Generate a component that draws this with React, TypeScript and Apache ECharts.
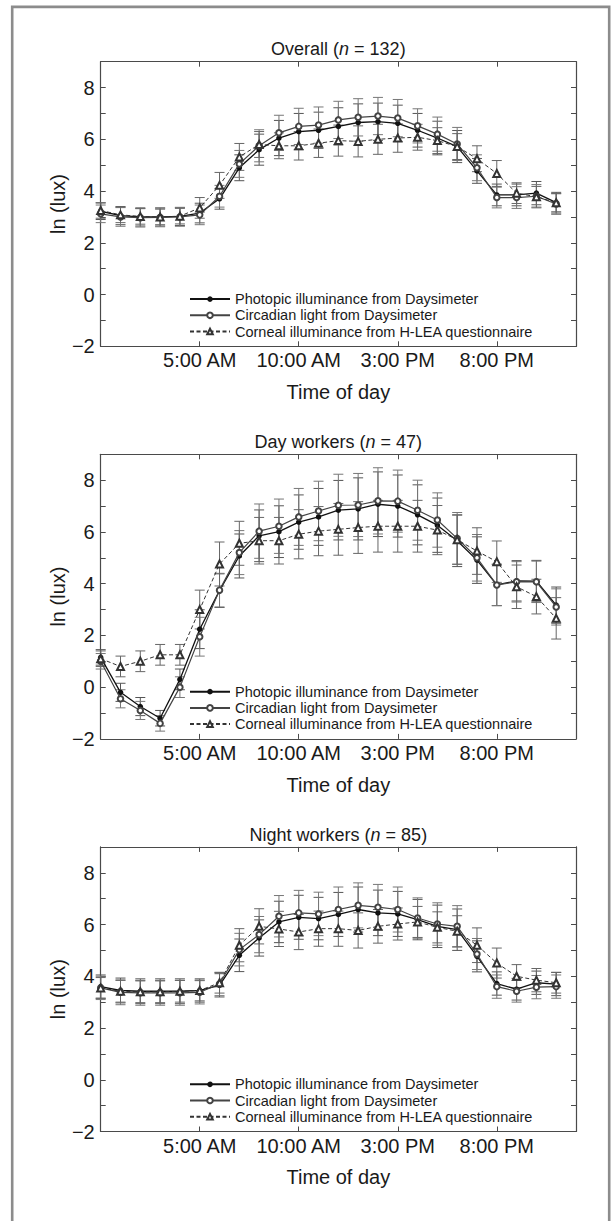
import React, { useEffect, useRef } from 'react';
import * as echarts from 'echarts';

// ---------------- data ----------------
const hours = [0, 1, 2, 3, 4, 5, 6, 7, 8, 9, 10, 11, 12, 13, 14, 15, 16, 17, 18, 19, 20, 21, 22, 23];

const xTickValues = [5, 10, 15, 20];
const xTickLabels = ['5:00 AM', '10:00 AM', '3:00 PM', '8:00 PM'];
const yTickValues = [-2, 0, 2, 4, 6, 8];
const yTickLabels = ['\u22122', '0', '2', '4', '6', '8'];

const seriesNames = [
  'Photopic illuminance from Daysimeter',
  'Circadian light from Daysimeter',
  'Corneal illuminance from H-LEA questionnaire',
];

const panelTitles = ['Overall', 'Day workers', 'Night workers'];
const panelN = [132, 47, 85];

// Overall (n = 132)
const overallPhotopic = [3.22, 3.05, 3.0, 3.0, 3.02, 3.15, 3.7, 4.9, 5.6, 6.05, 6.3, 6.35, 6.5, 6.65, 6.68, 6.62, 6.35, 6.05, 5.72, 4.78, 3.85, 3.85, 3.92, 3.55];
const overallCircadian = [3.12, 3.0, 2.97, 2.98, 3.0, 3.08, 3.8, 5.05, 5.75, 6.25, 6.5, 6.55, 6.75, 6.85, 6.9, 6.82, 6.52, 6.2, 5.82, 4.9, 3.75, 3.75, 3.8, 3.5];
const overallCorneal = [3.25, 3.08, 3.02, 3.0, 3.03, 3.35, 4.22, 5.32, 5.8, 5.75, 5.75, 5.85, 5.95, 5.92, 6.0, 6.05, 6.08, 5.95, 5.72, 5.25, 4.68, 3.92, 3.78, 3.55];
const overallPhotopicErr = [0.32, 0.35, 0.35, 0.35, 0.35, 0.38, 0.4, 0.5, 0.6, 0.68, 0.7, 0.7, 0.72, 0.72, 0.72, 0.7, 0.65, 0.65, 0.62, 0.48, 0.42, 0.42, 0.45, 0.4];
const overallCircadianErr = [0.34, 0.36, 0.36, 0.36, 0.36, 0.38, 0.42, 0.52, 0.62, 0.68, 0.7, 0.7, 0.72, 0.72, 0.72, 0.72, 0.66, 0.66, 0.64, 0.5, 0.4, 0.42, 0.45, 0.4];
const overallCornealErr = [0.3, 0.3, 0.3, 0.3, 0.3, 0.4, 0.5, 0.52, 0.5, 0.5, 0.55, 0.55, 0.6, 0.6, 0.58, 0.55, 0.5, 0.5, 0.5, 0.5, 0.5, 0.4, 0.4, 0.35];

// Day workers (n = 47)
const dayPhotopic = [1.15, -0.2, -0.75, -1.2, 0.3, 2.24, 3.73, 5.07, 5.85, 6.01, 6.38, 6.58, 6.84, 6.89, 7.07, 7.0, 6.66, 6.26, 5.66, 4.91, 3.95, 4.11, 4.1, 3.17];
const dayCircadian = [1.0, -0.45, -0.9, -1.4, 0.0, 1.95, 3.75, 5.2, 6.03, 6.22, 6.58, 6.81, 7.03, 7.04, 7.2, 7.19, 6.84, 6.46, 5.75, 5.0, 3.95, 4.07, 4.07, 3.1];
const dayCorneal = [1.1, 0.8, 1.0, 1.25, 1.25, 3.0, 4.76, 5.56, 5.66, 5.66, 5.91, 6.03, 6.1, 6.17, 6.22, 6.22, 6.22, 6.07, 5.7, 5.26, 4.85, 3.88, 3.5, 2.66];
const dayPhotopicErr = [0.3, 0.35, 0.35, 0.3, 0.4, 0.75, 0.65, 0.85, 1.0, 1.0, 1.05, 1.1, 1.15, 1.2, 1.25, 1.2, 1.16, 1.05, 1.0, 0.9, 0.8, 0.78, 0.8, 0.7];
const dayCircadianErr = [0.3, 0.35, 0.35, 0.3, 0.4, 0.75, 0.65, 0.85, 1.05, 1.05, 1.1, 1.15, 1.2, 1.22, 1.28, 1.2, 1.16, 1.05, 1.0, 0.9, 0.8, 0.78, 0.8, 0.7];
const dayCornealErr = [0.3, 0.4, 0.4, 0.4, 0.4, 0.75, 0.85, 0.85, 0.9, 0.9, 0.95, 0.95, 1.0, 1.0, 1.0, 1.0, 1.0, 0.95, 0.95, 0.9, 0.8, 0.84, 0.67, 0.8];

// Night workers (n = 85)
const nightPhotopic = [3.6, 3.45, 3.42, 3.42, 3.42, 3.45, 3.65, 4.81, 5.48, 6.1, 6.28, 6.23, 6.39, 6.58, 6.45, 6.41, 6.19, 5.93, 5.8, 4.77, 3.72, 3.5, 3.75, 3.7];
const nightCircadian = [3.55, 3.38, 3.36, 3.36, 3.36, 3.38, 3.7, 5.03, 5.61, 6.32, 6.45, 6.41, 6.58, 6.74, 6.67, 6.58, 6.25, 6.02, 5.93, 4.86, 3.6, 3.42, 3.58, 3.6];
const nightCorneal = [3.55, 3.42, 3.4, 3.4, 3.42, 3.45, 3.75, 5.2, 5.93, 5.83, 5.71, 5.84, 5.84, 5.77, 5.93, 6.02, 6.1, 5.89, 5.74, 5.2, 4.51, 4.0, 3.85, 3.75];
const nightPhotopicErr = [0.45, 0.48, 0.48, 0.48, 0.48, 0.45, 0.45, 0.63, 0.7, 0.8, 0.85, 0.82, 0.85, 0.87, 0.88, 0.87, 0.78, 0.82, 0.8, 0.6, 0.45, 0.42, 0.45, 0.45];
const nightCircadianErr = [0.45, 0.48, 0.48, 0.48, 0.48, 0.45, 0.45, 0.63, 0.7, 0.8, 0.87, 0.84, 0.87, 0.87, 0.88, 0.87, 0.78, 0.82, 0.8, 0.6, 0.45, 0.42, 0.45, 0.45];
const nightCornealErr = [0.4, 0.42, 0.42, 0.42, 0.42, 0.4, 0.4, 0.64, 0.68, 0.68, 0.68, 0.68, 0.68, 0.68, 0.65, 0.62, 0.6, 0.6, 0.6, 0.67, 0.58, 0.45, 0.45, 0.4];

const panelValues = [
  [overallPhotopic, overallCircadian, overallCorneal],
  [dayPhotopic, dayCircadian, dayCorneal],
  [nightPhotopic, nightCircadian, nightCorneal],
];
const panelErrors = [
  [overallPhotopicErr, overallCircadianErr, overallCornealErr],
  [dayPhotopicErr, dayCircadianErr, dayCornealErr],
  [nightPhotopicErr, nightCircadianErr, nightCornealErr],
];

// ---------------- layout / style ----------------
const FONT = "'Liberation Sans', Arial, Helvetica, sans-serif";
const W = 611;
const H = 1221;
const GRID_LEFT = 100.7;
const GRID_W = 475.3;
const GRID_TOP = 61.7;
const GRID_H = 284.6;
const PANEL_STEP = 392.6;
const AX = '#4a4a4a';
const TXT = '#1a1a1a';

const lineStyles = [
  { color: '#111', width: 1.3, type: 'solid' },
  { color: '#444', width: 1.2, type: 'solid' },
  { color: '#333', width: 1, type: [4, 2.5] },
];
const symbols = ['circle', 'emptyCircle', 'emptyTriangle'];
const symbolSizes = [5.5, 5.5, 7];
const symbolColors = ['#111', '#444', '#333'];
const errColors = ['#555', '#777', '#666'];

function makeErrRenderer(color: string) {
  return (params: any, api: any) => {
    const x = api.value(0);
    const m = api.value(1);
    const e = api.value(2);
    const p1 = api.coord([x, m + e]);
    const p2 = api.coord([x, m - e]);
    const hw = 5;
    const style = { stroke: color, lineWidth: 1, fill: null };
    return {
      type: 'group',
      children: [
        { type: 'line', shape: { x1: p1[0], y1: p1[1], x2: p2[0], y2: p2[1] }, style },
        { type: 'line', shape: { x1: p1[0] - hw, y1: p1[1], x2: p1[0] + hw, y2: p1[1] }, style },
        { type: 'line', shape: { x1: p2[0] - hw, y1: p2[1], x2: p2[0] + hw, y2: p2[1] }, style },
      ],
    };
  };
}

function buildOption() {
  const grids: any[] = [];
  const xAxes: any[] = [];
  const yAxes: any[] = [];
  const series: any[] = [];
  const legends: any[] = [];
  const graphics: any[] = [];

  graphics.push({
    type: 'rect',
    silent: true,
    shape: { x: 12.2, y: 6.9, width: 597, height: 1240 },
    style: { fill: 'none', stroke: '#8c8c8c', lineWidth: 2.6 },
  });

  const cx = GRID_LEFT + GRID_W / 2;

  for (let i = 0; i < 3; i++) {
    const off = i * PANEL_STEP;
    grids.push({ left: GRID_LEFT, top: GRID_TOP + off, width: GRID_W, height: GRID_H, containLabel: false });

    const baseX = {
      type: 'value',
      gridIndex: i,
      min: 0,
      max: 24,
      interval: 5,
      splitLine: { show: false },
      axisLine: { show: true, onZero: false, lineStyle: { color: AX, width: 1.2 } },
      axisTick: { show: true, inside: true, length: 5, lineStyle: { color: AX, width: 1 } },
    };
    xAxes.push({
      ...baseX,
      position: 'bottom',
      axisLabel: {
        show: true,
        margin: 4,
        fontSize: 20,
        fontFamily: FONT,
        color: TXT,
        formatter: (v: number) => {
          const k = xTickValues.indexOf(v);
          return k >= 0 ? xTickLabels[k] : '';
        },
      },
    });
    xAxes.push({ ...baseX, position: 'top', axisLabel: { show: false } });

    const baseY = {
      type: 'value',
      gridIndex: i,
      min: -2,
      max: 9,
      interval: 1,
      splitLine: { show: false },
      axisLine: { show: true, onZero: false, lineStyle: { color: AX, width: 1.2 } },
      axisTick: { show: true, inside: true, length: 5, lineStyle: { color: AX, width: 1 } },
    };
    yAxes.push({
      ...baseY,
      position: 'left',
      axisLabel: {
        show: true,
        margin: 6,
        fontSize: 20,
        fontFamily: FONT,
        color: TXT,
        formatter: (v: number) => {
          const k = yTickValues.indexOf(v);
          return k >= 0 ? yTickLabels[k] : '';
        },
      },
    });
    yAxes.push({ ...baseY, position: 'right', axisLabel: { show: false } });

    for (let s = 0; s < 3; s++) {
      const vals = panelValues[i][s];
      const errs = panelErrors[i][s];
      series.push({
        type: 'custom',
        name: 'err-' + i + '-' + s,
        xAxisIndex: 2 * i,
        yAxisIndex: 2 * i,
        silent: true,
        z: 2,
        encode: { x: 0, y: 1 },
        data: hours.map((h, k) => [h, vals[k], errs[k]]),
        renderItem: makeErrRenderer(errColors[s]),
      });
    }
    for (let s = 0; s < 3; s++) {
      const vals = panelValues[i][s];
      series.push({
        type: 'line',
        name: seriesNames[s],
        xAxisIndex: 2 * i,
        yAxisIndex: 2 * i,
        silent: true,
        z: 3 + s,
        data: hours.map((h, k) => [h, vals[k]]),
        symbol: symbols[s],
        symbolSize: symbolSizes[s],
        showAllSymbol: true,
        lineStyle: lineStyles[s],
        itemStyle: { color: symbolColors[s], borderWidth: 0.9 },
      });
    }

    legends.push({
      show: true,
      orient: 'vertical',
      left: 189,
      top: 291 + off,
      padding: 0,
      itemGap: 0,
      itemWidth: 40,
      itemHeight: 7,
      selectedMode: false,
      data: seriesNames,
      textStyle: { fontSize: 14.5, lineHeight: 16.2, fontFamily: FONT, color: TXT },
    });

    graphics.push({
      type: 'text',
      silent: true,
      x: cx,
      y: 49.3 + off,
      style: {
        text: panelTitles[i] + ' ({i|n} = ' + panelN[i] + ')',
        rich: { i: { fontStyle: 'italic', fontSize: 18, fontFamily: FONT, fill: TXT } },
        fontSize: 18,
        fontFamily: FONT,
        fill: TXT,
        align: 'center',
        verticalAlign: 'middle',
      },
    });
    graphics.push({
      type: 'text',
      silent: true,
      x: cx,
      y: 392 + off,
      style: {
        text: 'Time of day',
        fontSize: 20,
        fontFamily: FONT,
        fill: TXT,
        align: 'center',
        verticalAlign: 'middle',
      },
    });
    graphics.push({
      type: 'text',
      silent: true,
      x: 58,
      y: GRID_TOP + GRID_H / 2 + off,
      rotation: Math.PI / 2,
      style: {
        text: 'ln (lux)',
        fontSize: 20,
        fontFamily: FONT,
        fill: TXT,
        align: 'center',
        verticalAlign: 'middle',
      },
    });
  }

  return {
    animation: false,
    backgroundColor: '#ffffff',
    grid: grids,
    xAxis: xAxes,
    yAxis: yAxes,
    legend: legends,
    series,
    graphic: graphics,
  };
}

export default function App() {
  const ref = useRef<HTMLDivElement>(null);
  useEffect(() => {
    if (!ref.current) return;
    const chart = echarts.init(ref.current, undefined, { renderer: 'svg', width: W, height: H });
    chart.setOption(buildOption() as any);
    return () => {
      chart.dispose();
    };
  }, []);
  return (
    <div
      ref={ref}
      style={{ position: 'fixed', left: 0, top: 0, width: W, height: H, background: '#fff' }}
    />
  );
}
